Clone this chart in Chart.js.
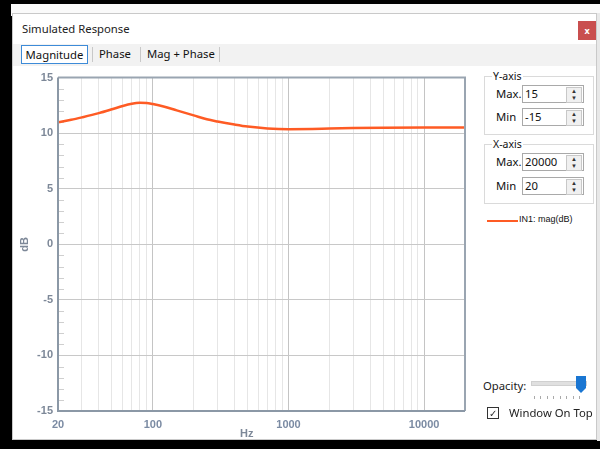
<!DOCTYPE html>
<html><head><meta charset="utf-8">
<script src="https://cdn.jsdelivr.net/npm/chart.js@4/dist/chart.umd.min.js"></script>
<style>
html,body{margin:0;padding:0;width:600px;height:449px;background:#000;overflow:hidden;font-family:"Noto Sans","Open Sans",sans-serif;}
#behind{position:absolute;left:11px;top:4px;width:589px;height:12px;background:#fafafa;}
#win{position:absolute;left:12px;top:13px;width:585px;height:427px;background:#fff;border:1px solid #c9c9c9;box-sizing:border-box;}
#rightedge{position:absolute;left:597px;top:13px;width:3px;height:428px;background:#e8e8e8;}
#title{position:absolute;left:22px;top:21px;font-size:11.3px;color:#222;}
#close{position:absolute;left:578px;top:21px;width:18px;height:19px;background:#c94f4f;color:#fff;font-size:9px;text-align:center;line-height:19px;font-weight:bold;}
#tabs{position:absolute;left:13px;top:44px;width:583px;height:22px;background:#f2f2f2;}
.tab{position:absolute;top:45px;font-size:11.3px;color:#111;height:19px;line-height:18px;}
#t1{left:21px;width:67px;border:1px solid #3d8bd8;background:#fff;box-sizing:border-box;text-align:center;}
.sep{position:absolute;top:47px;width:1px;height:15px;background:#c8c8c8;}
canvas{position:absolute;left:12px;top:66px;}
.grp{position:absolute;left:484px;width:110px;border:1px solid #dadada;box-sizing:border-box;}
.glab{position:absolute;left:492px;font-size:10.5px;background:#fff;padding:0 1px;color:#111;}
.lab{position:absolute;left:496px;font-size:11.3px;color:#111;}
.inp{position:absolute;left:522px;width:62px;height:18px;border:1px solid #a9a9a9;box-sizing:border-box;font-size:11.3px;line-height:16px;padding-left:2px;color:#111;background:#fff;}
.spin{position:absolute;right:1px;top:1px;width:14px;height:14px;border:1px solid #c8c8c8;background:#f0f0f0;font-size:6px;line-height:7px;text-align:center;color:#333;}
#leg{position:absolute;left:487px;top:220px;width:31px;height:2px;background:#fe5b24;}
#legt{position:absolute;left:519px;top:214px;font-size:9px;color:#111;font-family:"Liberation Sans",Arial,sans-serif;}
#op{position:absolute;left:483px;top:378px;font-size:11.3px;color:#222;}
#track{position:absolute;left:531px;top:381px;width:54px;height:3px;background:#e0e0e0;border:1px solid #d0d0d0;}
#thumb{position:absolute;left:576px;top:376px;width:10px;height:17px;background:#1a76d2;clip-path:polygon(0 0,100% 0,100% 70%,50% 100%,0 70%);}
#dots{position:absolute;left:534px;top:396px;width:50px;height:3px;background:repeating-linear-gradient(90deg,#aaa 0 1px,transparent 1px 6.5px);}
#cb{position:absolute;left:487px;top:407px;width:12px;height:12px;border:1px solid #333;box-sizing:border-box;font-size:10px;line-height:10px;text-align:center;color:#333;}
#wot{position:absolute;left:509px;top:405px;font-size:11.3px;color:#222;}
#hz{position:absolute;left:240px;top:427px;font:bold 11px "Liberation Sans",Arial,sans-serif;color:#7d8898;}
</style></head><body>
<div id="behind"></div>
<div id="win"></div>
<div id="rightedge"></div>
<div id="title">Simulated Response</div>
<div id="close">x</div>
<div id="tabs"></div>
<div class="tab" id="t1">Magnitude</div>
<div class="sep" style="left:92px"></div>
<div class="tab" style="left:99px">Phase</div>
<div class="sep" style="left:140px"></div>
<div class="tab" style="left:147px">Mag + Phase</div>
<div class="sep" style="left:219px"></div>
<canvas id="c" width="468" height="374"></canvas>
<div id="hz">Hz</div>
<div class="grp" style="top:76px;height:59px"></div>
<div class="glab" style="top:69px">Y-axis</div>
<div class="lab" style="top:86px">Max.</div>
<div class="inp" style="top:85px">15<div class="spin">▲<br>▼</div></div>
<div class="lab" style="top:109px">Min</div>
<div class="inp" style="top:108px">-15<div class="spin">▲<br>▼</div></div>
<div class="grp" style="top:144px;height:60px"></div>
<div class="glab" style="top:137px">X-axis</div>
<div class="lab" style="top:154px">Max.</div>
<div class="inp" style="top:153px">20000<div class="spin">▲<br>▼</div></div>
<div class="lab" style="top:178px">Min</div>
<div class="inp" style="top:177px">20<div class="spin">▲<br>▼</div></div>
<div id="leg"></div><div id="legt">IN1: mag(dB)</div>
<div id="op">Opacity:</div>
<div id="track"></div><div id="dots"></div><div id="thumb"></div>
<div id="cb">✓</div><div id="wot">Window On Top</div>
<script>
const freqs = [20,25,30,40,50,60,70,80,90,100,120,150,200,250,300,400,500,700,1000,1500,2000,3000,5000,10000,20000];
const magDb = [10.98,11.2,11.42,11.8,12.15,12.45,12.65,12.73,12.72,12.62,12.4,12.05,11.6,11.25,11.05,10.78,10.6,10.43,10.36,10.38,10.42,10.46,10.49,10.5,10.5];
const xTicks = [20,30,40,50,60,70,80,90,100,200,300,400,500,600,700,800,900,1000,2000,3000,4000,5000,6000,7000,8000,9000,10000,20000];
const xLabels = [20,100,1000,10000];
const xDecades = [100,1000,10000];
const seriesName = 'IN1: mag(dB)';

const labelColor = '#7d8898';
const frame = {
  id:'frame',
  beforeDatasetsDraw(chart){
    const {ctx, chartArea:a, scales:{y}} = chart;
    ctx.save();
    ctx.strokeStyle = '#cfcfcf'; ctx.lineWidth = 1;
    for (let v = y.min; v <= y.max; v++) {
      if (v % 5 === 0) continue;
      const py = Math.round(y.getPixelForValue(v)) + 0.5;
      ctx.beginPath(); ctx.moveTo(a.left, py); ctx.lineTo(a.left + 6, py); ctx.stroke();
    }
    ctx.restore();
  },
  afterDatasetsDraw(chart){
    const {ctx, chartArea:a} = chart;
    ctx.save();
    ctx.strokeStyle = '#9aa5b1'; ctx.lineWidth = 2;
    ctx.beginPath();
    ctx.moveTo(a.left, a.top); ctx.lineTo(a.right, a.top); ctx.lineTo(a.right, a.bottom);
    ctx.stroke();
    ctx.strokeStyle = '#8b98a6';
    ctx.beginPath(); ctx.moveTo(a.left, a.top); ctx.lineTo(a.left, a.bottom); ctx.lineTo(a.right, a.bottom); ctx.stroke();
    ctx.restore();
  }
};

new Chart(document.getElementById('c'), {
  type:'line',
  data:{datasets:[{label:seriesName, data:freqs.map((f,i)=>({x:f,y:magDb[i]})),
    borderColor:'#fe5b24', borderWidth:2.5, pointRadius:0, cubicInterpolationMode:'monotone', fill:false}]},
  options:{
    responsive:false, animation:false,
    layout:{padding:{left:0,right:15,top:11,bottom:0}},
    plugins:{legend:{display:false}, tooltip:{enabled:false}},
    scales:{
      x:{type:'logarithmic', min:20, max:20000,
        afterBuildTicks(s){ s.ticks = xTicks.map(v=>({value:v, major:xDecades.includes(v)})); },
        afterFit(s){ s.height = 29; },
        ticks:{autoSkip:false, maxRotation:0, padding:7, color:'#7b8ba3', font:{family:'"Liberation Sans",Arial,sans-serif', size:11, weight:'bold'},
          callback:(v)=> xLabels.includes(v) ? String(v) : ''},
        grid:{drawTicks:false, color:(c)=> xDecades.includes(c.tick && c.tick.value) ? '#c4c4c4' : '#e6e6e6'},
        border:{display:false}
      },
      y:{min:-15, max:15,
        afterBuildTicks(s){ const t=[]; for(let v=-15; v<=15; v++) t.push({value:v}); s.ticks=t; },
        afterFit(s){ s.width = 46; },
        ticks:{autoSkip:false, padding:5, color:labelColor, font:{family:'"Liberation Sans",Arial,sans-serif', size:11, weight:'bold'},
          callback:(v)=> v % 5 === 0 ? String(v) : ''},
        grid:{drawTicks:false, color:(c)=> (c.tick && c.tick.value % 5 === 0) ? '#c8c8c8' : 'rgba(0,0,0,0)'},
        border:{display:false},
        title:{display:true, text:'dB', color:labelColor, padding:{top:6,bottom:0}, font:{family:'"Liberation Sans",Arial,sans-serif', size:11, weight:'bold'}}
      }
    }
  },
  plugins:[frame]
});
</script>
</body></html>
